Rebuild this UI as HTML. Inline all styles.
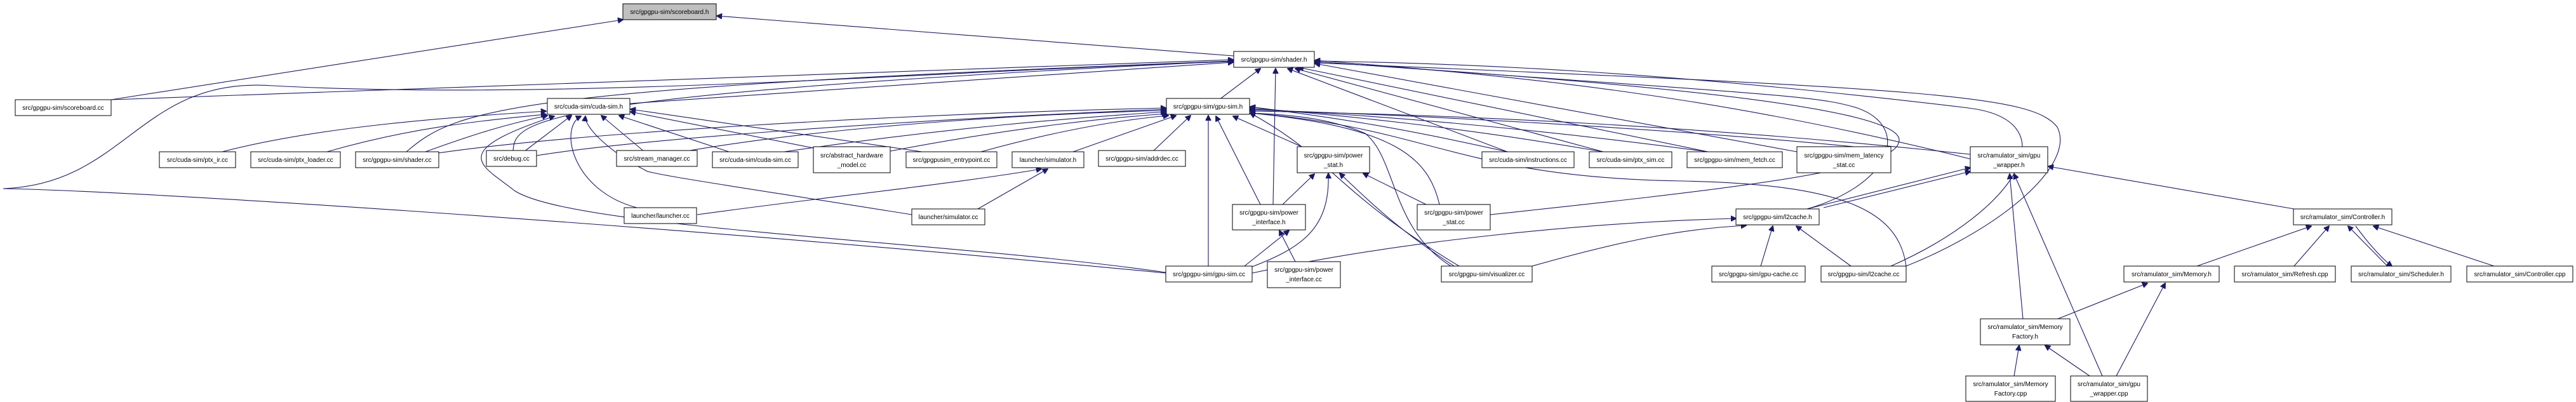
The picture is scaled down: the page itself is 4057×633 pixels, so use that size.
<!DOCTYPE html>
<html><head><meta charset="utf-8"><style>
html,body{margin:0;padding:0;background:#fff;}
svg{display:block;}
text{font-family:"Liberation Sans",Arial,sans-serif;font-size:10px;fill:#000;text-anchor:middle;}
rect{fill:#fff;stroke:#000;stroke-width:1;}
path{fill:none;stroke:#191970;stroke-width:1.1;}
</style></head><body>
<svg width="4057" height="633" viewBox="0 0 4057 633" xmlns="http://www.w3.org/2000/svg">
<defs><marker id="a" viewBox="0 0 10 10" refX="9" refY="5" markerWidth="9" markerHeight="9" orient="auto" markerUnits="userSpaceOnUse"><path d="M0,0 L10,5 L0,10 z" style="fill:#191970;stroke:#191970"/></marker></defs>
<g marker-end="url(#a)">
<path d="M175,157 L981,31"/>
<path d="M1943,88 L1129,25"/>
<path d="M175,157 L1942,94"/>
<path d="M1920,157 L1985,108"/>
<path d="M992,163 L1942,98"/>
<path d="M640,239 C720,170 800,140 1942,96"/>
<path d="M808,239 C810,190 830,150 1942,96"/>
<path d="M1836,430 C1000,350 200,300 5,297 C200,290 220,120 430,135 C900,160 1500,110 1942,97"/>
<path d="M2005,322 L2009,108"/>
<path d="M2374,239 L2028,108"/>
<path d="M2525,239 L2040,108"/>
<path d="M2690,239 L2045,106"/>
<path d="M2830,239 L2071,100"/>
<path d="M2846,329 C2980,290 3010,200 2925,170 C2860,150 2800,150 2071,97"/>
<path d="M3103,250 L3102,250 C2700,150 2400,120 2071,95"/>
<path d="M2347,338 C2700,300 2980,270 2990,225 C3020,160 2400,120 2071,97"/>
<path d="M2978,419 C3180,330 3260,190 3100,170 C2600,110 2300,100 2071,96"/>
<path d="M350,239 C500,200 700,185 860,175"/>
<path d="M515,239 C650,200 760,190 860,180"/>
<path d="M670,239 C750,210 800,195 862,182"/>
<path d="M825,239 L900,182"/>
<path d="M1015,239 L947,182"/>
<path d="M1148,239 L975,182"/>
<path d="M1281,233 L993,176"/>
<path d="M1452,239 L993,172"/>
<path d="M1003,327 C900,300 880,200 915,183"/>
<path d="M1436,338 C1200,300 1060,280 1020,270 C960,240 920,200 922,183"/>
<path d="M1836,429 C1500,380 900,360 810,300 C760,260 700,240 873,183"/>
<path d="M690,241 C900,210 1400,180 1836,170"/>
<path d="M845,245 C1000,220 1400,190 1836,172"/>
<path d="M1075,239 C1300,200 1600,180 1836,174"/>
<path d="M1235,239 C1500,200 1700,185 1836,176"/>
<path d="M1402,238 C1600,200 1750,185 1838,179"/>
<path d="M1545,239 C1650,210 1750,190 1840,182"/>
<path d="M1690,239 L1852,182"/>
<path d="M1815,239 L1875,182"/>
<path d="M1903,419 L1903,182"/>
<path d="M1985,322 L1915,183"/>
<path d="M2050,231 L1942,183"/>
<path d="M2374,239 C2200,200 2100,185 1969,168"/>
<path d="M2525,239 C2300,200 2100,180 1969,170"/>
<path d="M2690,239 C2400,200 2150,180 1969,172"/>
<path d="M2920,231 C2600,200 2200,180 1969,173"/>
<path d="M3103,243 C2700,200 2300,180 1969,175"/>
<path d="M2285,419 C2190,360 2200,250 2150,210 C2080,180 2000,180 1969,178"/>
<path d="M2267,322 C2250,250 2200,200 1969,178"/>
<path d="M2298,419 C2100,300 2100,250 1969,178"/>
<path d="M3002,419 C2990,330 2900,290 2650,285 C2300,280 2250,200 1969,178"/>
<path d="M1098,338 C1300,310 1500,290 1640,266"/>
<path d="M1540,329 L1650,266"/>
<path d="M2020,322 L2070,274"/>
<path d="M1972,420 C2050,390 2095,360 2092,273"/>
<path d="M2290,419 C2200,360 2160,320 2110,273"/>
<path d="M2246,322 L2147,273"/>
<path d="M1960,419 L2030,363"/>
<path d="M2040,412 L2015,363"/>
<path d="M1972,430 C2200,380 2500,350 2734,344"/>
<path d="M2413,419 C2550,380 2650,360 2750,355"/>
<path d="M2773,419 L2792,356"/>
<path d="M2915,419 L2829,356"/>
<path d="M2846,329 L3103,264"/>
<path d="M2872,327 L3103,270"/>
<path d="M3613,329 L3226,262"/>
<path d="M3186,502 L3165,274"/>
<path d="M3311,592 L3172,274"/>
<path d="M3002,419 C3150,360 3270,260 3240,200 C3200,150 3050,140 2071,99"/>
<path d="M3460,419 L3640,356"/>
<path d="M3613,419 L3668,356"/>
<path d="M3760,419 L3698,356"/>
<path d="M3710,356 C3735,390 3755,410 3767,419"/>
<path d="M3928,419 L3738,356"/>
<path d="M3241,502 L3382,446"/>
<path d="M3333,592 L3410,446"/>
<path d="M3172,592 L3180,544"/>
<path d="M3291,592 L3221,544"/>
</g>
<g>
<rect x="981" y="6" width="147" height="25" style="fill:#bfbfbf"/><text x="1054.5" y="22">src/gpgpu-sim/scoreboard.h</text>
<rect x="1943" y="81" width="127" height="25"/><text x="2006.5" y="97">src/gpgpu-sim/shader.h</text>
<rect x="24" y="157" width="151" height="25"/><text x="99.5" y="173">src/gpgpu-sim/scoreboard.cc</text>
<rect x="862" y="155" width="130" height="25"/><text x="927" y="171">src/cuda-sim/cuda-sim.h</text>
<rect x="1837" y="155" width="131" height="25"/><text x="1902.5" y="171">src/gpgpu-sim/gpu-sim.h</text>
<rect x="251" y="239" width="120" height="25"/><text x="311" y="255">src/cuda-sim/ptx_ir.cc</text>
<rect x="395" y="239" width="141" height="25"/><text x="465.5" y="255">src/cuda-sim/ptx_loader.cc</text>
<rect x="560" y="239" width="131" height="25"/><text x="625.5" y="255">src/gpgpu-sim/shader.cc</text>
<rect x="766" y="237" width="79" height="25"/><text x="805.5" y="253">src/debug.cc</text>
<rect x="971" y="237" width="127" height="25"/><text x="1034.5" y="253">src/stream_manager.cc</text>
<rect x="1122" y="239" width="135" height="25"/><text x="1189.5" y="255">src/cuda-sim/cuda-sim.cc</text>
<rect x="1281" y="231" width="121" height="41"/><text x="1341.5" y="248">src/abstract_hardware</text><text x="1341.5" y="263">_model.cc</text>
<rect x="1427" y="239" width="143" height="25"/><text x="1498.5" y="255">src/gpgpusim_entrypoint.cc</text>
<rect x="1594" y="239" width="113" height="25"/><text x="1650.5" y="255">launcher/simulator.h</text>
<rect x="1730" y="237" width="137" height="25"/><text x="1798.5" y="253">src/gpgpu-sim/addrdec.cc</text>
<rect x="2043" y="231" width="114" height="41"/><text x="2100" y="248">src/gpgpu-sim/power</text><text x="2100" y="263">_stat.h</text>
<rect x="2334" y="239" width="145" height="25"/><text x="2406.5" y="255">src/cuda-sim/instructions.cc</text>
<rect x="2503" y="239" width="130" height="25"/><text x="2568" y="255">src/cuda-sim/ptx_sim.cc</text>
<rect x="2657" y="239" width="150" height="25"/><text x="2732" y="255">src/gpgpu-sim/mem_fetch.cc</text>
<rect x="2830" y="231" width="148" height="41"/><text x="2904" y="248">src/gpgpu-sim/mem_latency</text><text x="2904" y="263">_stat.cc</text>
<rect x="3103" y="231" width="122" height="41"/><text x="3164" y="248">src/ramulator_sim/gpu</text><text x="3164" y="263">_wrapper.h</text>
<rect x="983" y="327" width="114" height="25"/><text x="1040" y="343">launcher/launcher.cc</text>
<rect x="1436" y="329" width="115" height="25"/><text x="1493.5" y="345">launcher/simulator.cc</text>
<rect x="1941" y="322" width="115" height="40"/><text x="1998.5" y="338">src/gpgpu-sim/power</text><text x="1998.5" y="353">_interface.h</text>
<rect x="2232" y="322" width="115" height="40"/><text x="2289.5" y="338">src/gpgpu-sim/power</text><text x="2289.5" y="353">_stat.cc</text>
<rect x="2734" y="329" width="131" height="25"/><text x="2799.5" y="345">src/gpgpu-sim/l2cache.h</text>
<rect x="3612" y="329" width="155" height="25"/><text x="3689.5" y="345">src/ramulator_sim/Controller.h</text>
<rect x="1836" y="419" width="136" height="25"/><text x="1904" y="435">src/gpgpu-sim/gpu-sim.cc</text>
<rect x="1996" y="412" width="115" height="41"/><text x="2053.5" y="428">src/gpgpu-sim/power</text><text x="2053.5" y="443">_interface.cc</text>
<rect x="2270" y="419" width="143" height="25"/><text x="2341.5" y="435">src/gpgpu-sim/visualizer.cc</text>
<rect x="2696" y="419" width="147" height="25"/><text x="2769.5" y="435">src/gpgpu-sim/gpu-cache.cc</text>
<rect x="2868" y="419" width="134" height="25"/><text x="2935" y="435">src/gpgpu-sim/l2cache.cc</text>
<rect x="3345" y="419" width="150" height="25"/><text x="3420" y="435">src/ramulator_sim/Memory.h</text>
<rect x="3519" y="419" width="159" height="25"/><text x="3598.5" y="435">src/ramulator_sim/Refresh.cpp</text>
<rect x="3703" y="419" width="157" height="25"/><text x="3781.5" y="435">src/ramulator_sim/Scheduler.h</text>
<rect x="3885" y="419" width="167" height="25"/><text x="3968.5" y="435">src/ramulator_sim/Controller.cpp</text>
<rect x="3119" y="502" width="141" height="41"/><text x="3189.5" y="518">src/ramulator_sim/Memory</text><text x="3189.5" y="533">Factory.h</text>
<rect x="3096" y="592" width="141" height="40"/><text x="3166.5" y="608">src/ramulator_sim/Memory</text><text x="3166.5" y="623">Factory.cpp</text>
<rect x="3261" y="592" width="121" height="40"/><text x="3321.5" y="608">src/ramulator_sim/gpu</text><text x="3321.5" y="623">_wrapper.cpp</text>
</g>
</svg>
</body></html>
